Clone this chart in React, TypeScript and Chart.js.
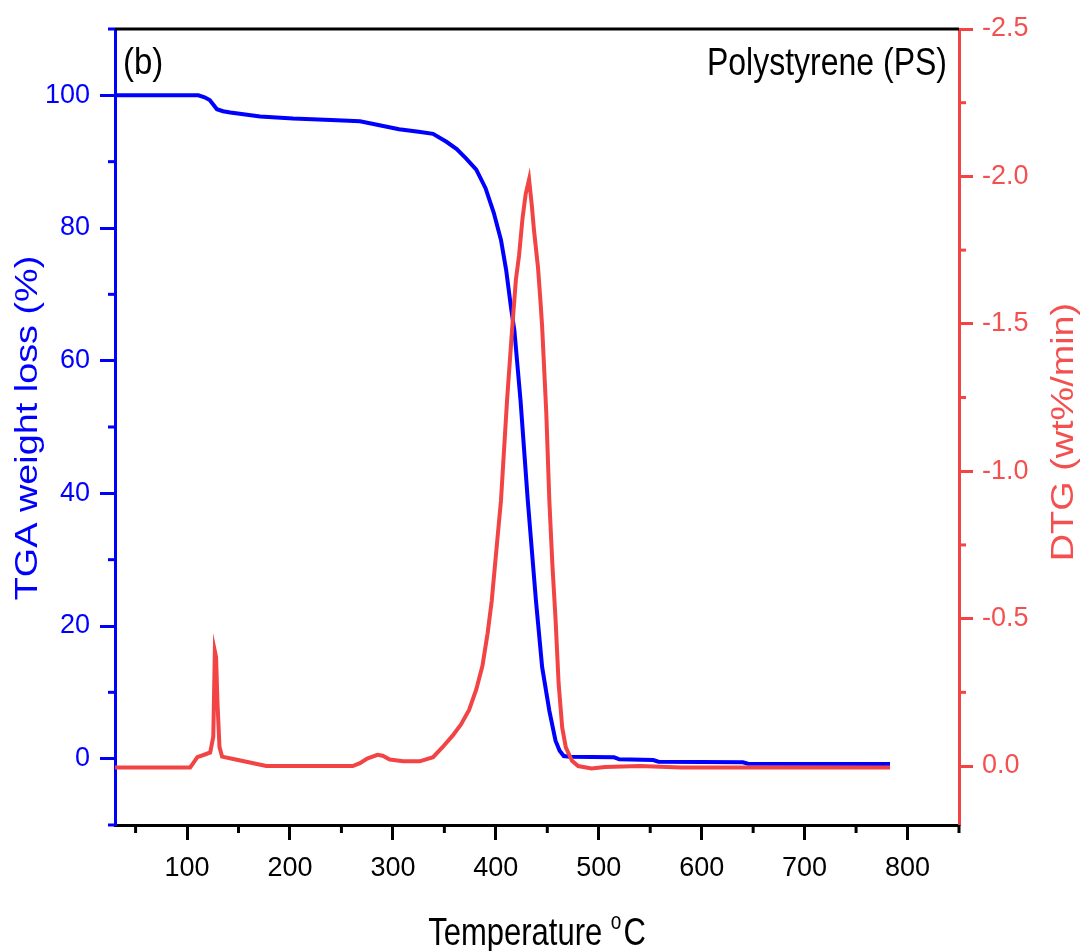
import React, { useEffect, useRef } from 'react';
import { Chart, registerables } from 'chart.js';

Chart.register(...registerables);

// ---- data ----
const tgaTemp = [30, 111, 117, 122, 126, 129, 135, 142, 171, 203, 240, 268, 287, 306, 325, 339, 352, 362, 371, 381, 390, 398, 405, 410, 415, 418, 424, 431, 439, 445, 452, 458, 462, 466, 472, 515, 520, 553, 558, 640, 645, 783];
const tgaWeight = [100, 100, 99.7, 99.3, 98.5, 97.9, 97.6, 97.4, 96.8, 96.5, 96.3, 96.1, 95.5, 94.9, 94.5, 94.2, 93.0, 91.9, 90.5, 88.8, 86.0, 82.3, 78.2, 73.7, 67.7, 64.6, 54.0, 39.0, 23.8, 13.8, 7.2, 2.7, 1.2, 0.4, 0.3, 0.2, -0.1, -0.2, -0.45, -0.55, -0.75, -0.8];

const dtgTemp = [30, 103, 106, 110, 118, 122.5, 125.5, 127, 128.2, 129.5, 131.5, 134, 145, 161, 177, 261, 268, 275, 285, 290, 297, 310, 326, 339, 348, 358, 366, 374, 381, 387, 392, 396, 401, 405, 411, 416, 419.5, 422.5, 426, 429, 432.3, 435, 437, 441, 443.5, 445, 449, 452, 455, 458, 461, 464.5, 468, 474, 480, 493, 506, 540, 580, 783];
const dtgRate = [0.005, 0.005, -0.01, -0.03, -0.04, -0.046, -0.1, -0.39, -0.37, -0.22, -0.065, -0.032, -0.024, -0.012, 0.0, 0.0, -0.01, -0.025, -0.038, -0.035, -0.022, -0.016, -0.016, -0.03, -0.063, -0.103, -0.14, -0.19, -0.26, -0.34, -0.45, -0.56, -0.75, -0.9, -1.245, -1.49, -1.65, -1.73, -1.86, -1.94, -1.99, -1.9, -1.82, -1.69, -1.57, -1.49, -1.2, -0.9, -0.68, -0.5, -0.28, -0.13, -0.063, -0.018, 0.0, 0.008, 0.003, 0.0, 0.005, 0.005];

const xMajorTicks = [100, 200, 300, 400, 500, 600, 700, 800];
const xMinorTicks = [50, 150, 250, 350, 450, 550, 650, 750, 850];
const leftMajorTicks = [0, 20, 40, 60, 80, 100];
const leftMinorTicks = [-10, 10, 30, 50, 70, 90, 110];
const rightMajorTicks = [-2.5, -2.0, -1.5, -1.0, -0.5, 0.0];
const rightMinorTicks = [-2.25, -1.75, -1.25, -0.75, -0.25];

const BLUE = '#0000ff';
const RED = '#f24444';
const RED_TEXT = '#f45050';
const FONT = '"Liberation Sans", Arial, sans-serif';

function drawText(
  ctx: CanvasRenderingContext2D,
  text: string,
  x: number,
  y: number,
  size: number,
  color: string,
  align: CanvasTextAlign,
  sx: number,
  sy: number,
  rot: number
) {
  ctx.save();
  ctx.translate(x, y);
  if (rot) ctx.rotate(rot);
  ctx.scale(sx, sy);
  ctx.font = `${size}px ${FONT}`;
  ctx.fillStyle = color;
  ctx.textAlign = align;
  ctx.textBaseline = 'alphabetic';
  ctx.fillText(text, 0, 0);
  ctx.restore();
}

const decorPlugin = {
  id: 'decor',
  afterDraw(chart: any) {
    const ctx: CanvasRenderingContext2D = chart.ctx;
    const area = chart.chartArea;
    const xs = chart.scales.x;
    const yl = chart.scales.y;
    const yr = chart.scales.y1;
    ctx.save();
    // top frame line
    ctx.strokeStyle = '#000';
    ctx.lineWidth = 3;
    ctx.beginPath();
    ctx.moveTo(area.left, area.top);
    ctx.lineTo(area.right, area.top);
    ctx.stroke();
    // minor ticks
    ctx.lineWidth = 3;
    ctx.strokeStyle = '#000';
    xMinorTicks.forEach((v) => {
      const p = xs.getPixelForValue(v);
      ctx.beginPath();
      ctx.moveTo(p, area.bottom);
      ctx.lineTo(p, area.bottom + 8);
      ctx.stroke();
    });
    ctx.strokeStyle = BLUE;
    leftMinorTicks.forEach((v) => {
      const p = yl.getPixelForValue(v);
      ctx.beginPath();
      ctx.moveTo(area.left, p);
      ctx.lineTo(area.left - 7, p);
      ctx.stroke();
    });
    ctx.strokeStyle = RED;
    rightMinorTicks.forEach((v) => {
      const p = yr.getPixelForValue(v);
      ctx.beginPath();
      ctx.moveTo(area.right, p);
      ctx.lineTo(area.right + 7, p);
      ctx.stroke();
    });
    ctx.restore();

    // annotations
    drawText(ctx, '(b)', area.left + 8, 74, 33, '#000', 'left', 1, 1.1, 0);
    drawText(ctx, 'Polystyrene (PS)', area.right - 12, 75, 32, '#000', 'right', 1, 1.23, 0);

    // axis titles
    const cx = (area.left + area.right) / 2;
    ctx.save();
    const tSize = 31;
    ctx.font = `${tSize}px ${FONT}`;
    const w1 = ctx.measureText('Temperature ').width;
    const wC = ctx.measureText('C').width;
    ctx.font = `${Math.round(tSize * 0.6)}px ${FONT}`;
    const wo = ctx.measureText('o').width;
    ctx.restore();
    const total = w1 + wo + 2 + wC;
    const startX = cx - total / 2;
    const baseY = 945;
    drawText(ctx, 'Temperature ', startX, baseY, tSize, '#000', 'left', 1, 1.25, 0);
    drawText(ctx, 'o', startX + w1, baseY - 16, Math.round(tSize * 0.6), '#000', 'left', 1, 1.25, 0);
    drawText(ctx, 'C', startX + w1 + wo + 2, baseY, tSize, '#000', 'left', 1, 1.25, 0);

    drawText(ctx, 'TGA weight loss (%)', 37, 428, 31, BLUE, 'center', 1.22, 1, -Math.PI / 2);
    drawText(ctx, 'DTG (wt%/min)', 1073, 432, 31, RED_TEXT, 'center', 1.22, 1, -Math.PI / 2);
  },
};

export default function App() {
  const ref = useRef<HTMLCanvasElement | null>(null);

  useEffect(() => {
    if (!ref.current) return;
    Chart.defaults.font.family = FONT;
    const tgaData = tgaTemp.map((t, i) => ({ x: t, y: tgaWeight[i] }));
    const dtgData = dtgTemp.map((t, i) => ({ x: t, y: dtgRate[i] }));

    const chart = new Chart(ref.current, {
      type: 'line',
      data: {
        datasets: [
          {
            label: 'DTG',
            data: dtgData,
            yAxisID: 'y1',
            borderColor: RED,
            backgroundColor: RED,
            borderWidth: 4,
            pointRadius: 0,
            tension: 0,
            order: 0,
          },
          {
            label: 'TGA',
            data: tgaData,
            yAxisID: 'y',
            borderColor: BLUE,
            backgroundColor: BLUE,
            borderWidth: 4,
            pointRadius: 0,
            tension: 0,
            order: 1,
          },
        ],
      },
      options: {
        responsive: false,
        animation: false,
        devicePixelRatio: 1,
        layout: { padding: { top: 29, left: 0, right: 0, bottom: 0 } },
        plugins: { legend: { display: false }, tooltip: { enabled: false } },
        scales: {
          x: {
            type: 'linear',
            position: 'bottom',
            min: 30,
            max: 850,
            afterBuildTicks: (s: any) => {
              s.ticks = xMajorTicks.map((v) => ({ value: v }));
            },
            afterFit: (s: any) => {
              s.height = 126;
            },
            ticks: {
              color: '#000',
              font: { size: 27, family: FONT },
              padding: 12,
              maxRotation: 0,
              autoSkip: false,
              callback: (v: any) => String(v),
            },
            grid: {
              display: true,
              drawOnChartArea: false,
              drawTicks: true,
              tickLength: 15,
              tickWidth: 3,
              tickColor: '#000',
            },
            border: { display: true, color: '#000', width: 3 },
          },
          y: {
            type: 'linear',
            position: 'left',
            min: -10,
            max: 110,
            afterBuildTicks: (s: any) => {
              s.ticks = leftMajorTicks.map((v) => ({ value: v }));
            },
            afterFit: (s: any) => {
              s.width = 115;
            },
            ticks: {
              color: BLUE,
              font: { size: 27, family: FONT },
              padding: 10,
              autoSkip: false,
              callback: (v: any) => String(v),
            },
            grid: {
              display: true,
              drawOnChartArea: false,
              drawTicks: true,
              tickLength: 15,
              tickWidth: 3,
              tickColor: BLUE,
            },
            border: { display: true, color: BLUE, width: 3 },
          },
          y1: {
            type: 'linear',
            position: 'right',
            min: -2.5,
            max: 0.2,
            reverse: true,
            afterBuildTicks: (s: any) => {
              s.ticks = rightMajorTicks.map((v) => ({ value: v }));
            },
            afterFit: (s: any) => {
              s.width = 122;
            },
            ticks: {
              color: RED_TEXT,
              font: { size: 27, family: FONT },
              padding: 9,
              autoSkip: false,
              callback: (v: any) => Number(v).toFixed(1),
            },
            grid: {
              display: true,
              drawOnChartArea: false,
              drawTicks: true,
              tickLength: 14,
              tickWidth: 3,
              tickColor: RED,
            },
            border: { display: true, color: RED, width: 3 },
          },
        },
      },
      plugins: [decorPlugin],
    } as any);

    return () => chart.destroy();
  }, []);

  return (
    <div style={{ position: 'absolute', left: 0, top: 0, width: 1081, height: 951, background: '#fff' }}>
      <canvas ref={ref} width={1081} height={951} style={{ width: 1081, height: 951, display: 'block' }} />
    </div>
  );
}
